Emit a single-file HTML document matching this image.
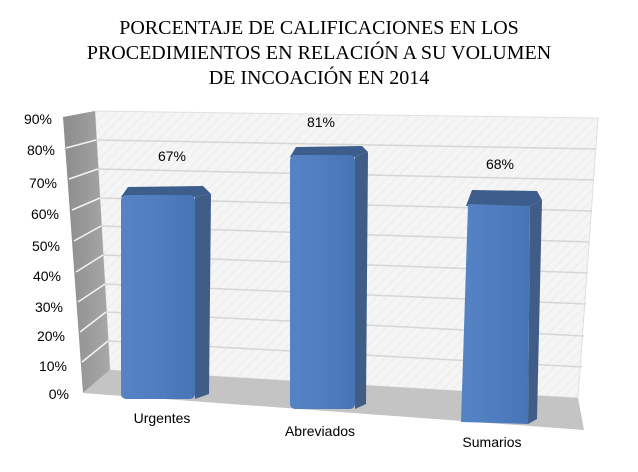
<!DOCTYPE html>
<html><head><style>body{margin:0;background:#fff}svg{display:block}</style></head><body>
<svg width="638" height="472" viewBox="0 0 638 472" xmlns="http://www.w3.org/2000/svg">
<defs>
<pattern id="hatch" width="7" height="7" patternUnits="userSpaceOnUse" patternTransform="rotate(45)">
<rect width="7" height="7" fill="#f5f5f5"/><line x1="0" y1="0" x2="0" y2="7" stroke="#e8e8e8" stroke-width="1.5"/>
</pattern>
<linearGradient id="side" x1="0" x2="1"><stop offset="0" stop-color="#8c8c8c"/><stop offset="1" stop-color="#a8a8a8"/></linearGradient>
<linearGradient id="face" x1="0" x2="1"><stop offset="0" stop-color="#5583c4"/><stop offset="0.5" stop-color="#4f7dbf"/><stop offset="1" stop-color="#4674b5"/></linearGradient>
</defs>
<g font-family="'Liberation Serif',serif" font-size="20" text-anchor="middle" fill="#000">
<text x="319" y="34">PORCENTAJE DE CALIFICACIONES EN LOS</text>
<text x="319" y="59">PROCEDIMIENTOS EN RELACIÓN A SU VOLUMEN</text>
<text x="319" y="84">DE INCOACIÓN EN 2014</text>
</g>
<polygon points="95,111 598,118 578,398 110,370" fill="url(#hatch)" stroke="#e0e0e0"/>
<polygon points="63,117 95,111 110,370 83,393" fill="url(#side)"/>
<polygon points="83,393 110,370 578,398 584,430" fill="#c4c4c4"/>
<g stroke="#d6d6d6" stroke-width="1.5" fill="none">
<line x1="96" y1="140" x2="596" y2="149"/>
<line x1="98" y1="169" x2="594" y2="180"/>
<line x1="100" y1="198" x2="592" y2="211"/>
<line x1="101" y1="226" x2="590" y2="242"/>
<line x1="103" y1="255" x2="588" y2="273"/>
<line x1="105" y1="284" x2="586" y2="304"/>
<line x1="106" y1="312" x2="584" y2="336"/>
<line x1="108" y1="341" x2="582" y2="367"/>
</g>
<g stroke="#f4f4f4" stroke-width="1.5">
<line x1="66" y1="148" x2="96" y2="140"/>
<line x1="69" y1="179" x2="98" y2="169"/>
<line x1="72" y1="210" x2="100" y2="198"/>
<line x1="74" y1="241" x2="101" y2="226"/>
<line x1="76" y1="272" x2="103" y2="255"/>
<line x1="78" y1="302" x2="105" y2="284"/>
<line x1="80" y1="332" x2="106" y2="312"/>
<line x1="82" y1="362" x2="108" y2="341"/>
</g>
<g>
<polygon points="128,187 203,186 211,194 195,197 121,197" fill="#3d5d8c"/>
<polygon points="195,197 211,194 209,394 195,399" fill="#3f5d87"/>
<rect x="121" y="195" width="74" height="204" rx="5" fill="url(#face)"/>
<polygon points="296,147 362,146 368,152 355,157 290,157" fill="#3d5d8c"/>
<polygon points="355,157 368,152 366,404 355,409" fill="#3f5d87"/>
<rect x="290" y="155" width="65" height="254" rx="5" fill="url(#face)"/>
<polygon points="472,190 537,191 542,200 530,206 466,206" fill="#3d5d8c"/>
<polygon points="530,206 542,200 537,419 528,424" fill="#3f5d87"/>
<polygon points="468,204 530,206 528,424 461,422" fill="url(#face)"/>
</g>
<g font-family="'Liberation Sans',sans-serif" font-size="14" fill="#000">
<g text-anchor="end">
<text x="52" y="124">90%</text><text x="55" y="155">80%</text><text x="57" y="188">70%</text>
<text x="59" y="219">60%</text><text x="60" y="251">50%</text><text x="61" y="281">40%</text>
<text x="63" y="312">30%</text><text x="65" y="341">20%</text><text x="67" y="371">10%</text><text x="69" y="399">0%</text>
</g>
<g text-anchor="middle">
<text x="172" y="161">67%</text><text x="321" y="127">81%</text><text x="500" y="169">68%</text>
<text x="162" y="423">Urgentes</text><text x="320" y="436">Abreviados</text><text x="492" y="447">Sumarios</text>
</g>
</g>
</svg>
</body></html>
